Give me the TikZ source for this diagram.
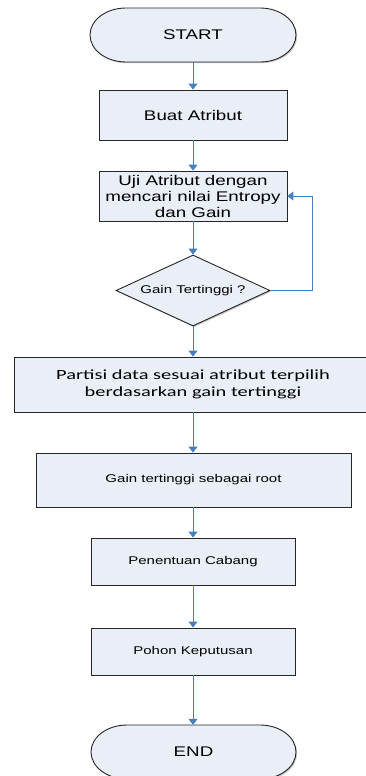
\documentclass[tikz,border=0pt]{standalone}
\usepackage{fontspec}
\setmainfont[FakeStretch=1.34]{Liberation Sans}
\newfontfamily\calfont[FakeStretch=1.46]{Carlito}
\usetikzlibrary{arrows.meta,shapes.geometric,shadows,positioning}

\definecolor{boxfill}{RGB}{233,238,247}
\definecolor{flowblue}{RGB}{74,126,187}

\tikzset{
  x=1pt, y=1pt,
  boxshadow/.style={drop shadow={shadow xshift=1.2pt,shadow yshift=-1.2pt,fill=black!45,opacity=0.5}},
  procbox/.style={draw=black!85, line width=0.9pt, fill=boxfill, boxshadow,
    inner sep=0pt, align=center, font=\fontsize{14}{16}\selectfont},
  smallbox/.style={procbox, font=\fontsize{11.2}{13}\selectfont},
  decision/.style={diamond, draw=black!85, line width=0.9pt, fill=boxfill, boxshadow,
    inner sep=0pt, aspect=2.17, minimum width=154, minimum height=71,
    font=\fontsize{11.2}{13}\selectfont},
  terminal/.style={draw=black!85, line width=0.9pt, fill=boxfill, boxshadow},
  termtext/.style={inner sep=0pt, minimum width=206, minimum height=54,
    font=\fontsize{14}{16}\selectfont},
  flow/.style={draw=flowblue, line width=1pt, -{Triangle[length=6pt,width=9pt]}}
}

\begin{document}
\begin{tikzpicture}
\useasboundingbox (0,0) rectangle (366,-776);
\clip (0,0) rectangle (366,-776);

% START terminal (stadium with elliptic ends)
\path[terminal] (126,-8) -- (260,-8)
  arc[start angle=90, end angle=-90, x radius=36, y radius=27]
  -- (126,-62)
  arc[start angle=270, end angle=90, x radius=36, y radius=27] -- cycle;
\node[termtext] (start) at (193,-35) {START};

% process steps
\node[procbox, minimum width=188, minimum height=50] (buat) at (193,-115) {Buat Atribut};
\node[procbox, minimum width=188, minimum height=50] (uji) at (193,-196)
  {Uji Atribut dengan\\mencari nilai Entropy\\dan Gain};
\node[decision] (gain) at (193,-290.5) {Gain Tertinggi ?};
\node[procbox, minimum width=358, minimum height=55,
  font=\calfont\fontsize{14}{16.7}\selectfont] (partisi) at (193,-384.5)
  {Partisi data sesuai atribut terpilih\\berdasarkan gain tertinggi};
\node[smallbox, minimum width=315, minimum height=54] (root) at (193.5,-480) {Gain tertinggi sebagai root};
\node[smallbox, minimum width=204, minimum height=47] (cabang) at (193,-561.5) {Penentuan Cabang};
\node[smallbox, minimum width=204, minimum height=47] (pohon) at (193,-651.5) {Pohon Keputusan};

% END terminal
\path[terminal] (127,-725) -- (260,-725)
  arc[start angle=90, end angle=-90, x radius=36, y radius=27]
  -- (127,-779)
  arc[start angle=270, end angle=90, x radius=36, y radius=27] -- cycle;
\node[termtext] (end) at (193.5,-752) {END};

% connectors
\draw[flow] (start.south) -- (buat.north);
\draw[flow] (buat.south) -- (uji.north);
\draw[flow] (uji.south) -- (gain.north);
\draw[flow] (gain.south) -- (partisi.north);
\draw[flow] (partisi.south) -- (root.north -| partisi.south);
\draw[flow] (root.south -| cabang.north) -- (cabang.north);
\draw[flow] (cabang.south) -- (pohon.north);
\draw[flow] (pohon.south) -- (end.north -| pohon.south);

% loop back from the decision
\coordinate (loopx) at (312,0);
\draw[flow] (gain.east) -- (gain.east -| loopx) |- (uji.east);
\end{tikzpicture}
\end{document}
